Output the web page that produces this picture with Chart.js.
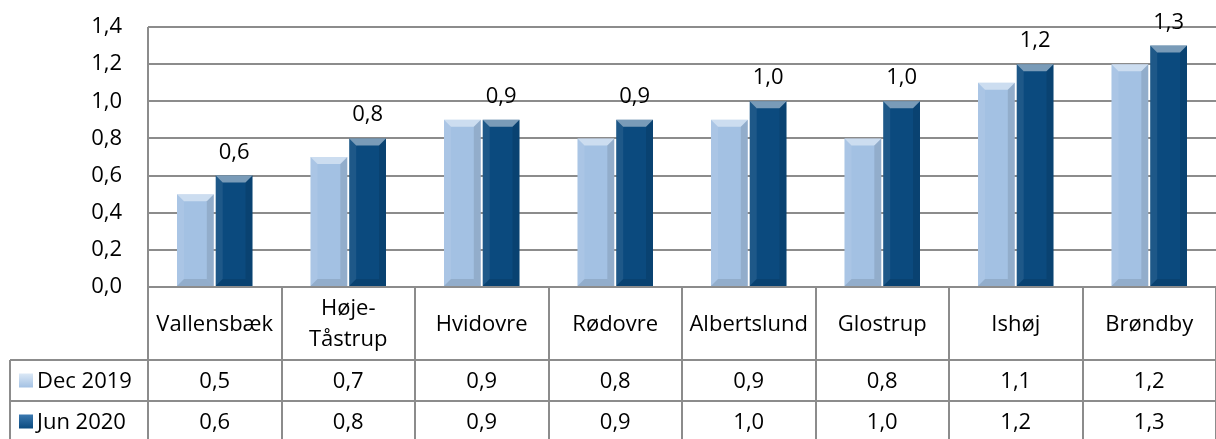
<!DOCTYPE html>
<html>
<head>
<meta charset="utf-8">
<script src="https://cdn.jsdelivr.net/npm/chart.js@4/dist/chart.umd.min.js"></script>
<style>
  html, body { margin: 0; padding: 0; background: #fff; }
  #wrap { width: 1216px; height: 439px; }
</style>
</head>
<body>
<div id="wrap"><canvas id="myChart" width="1216" height="439"></canvas></div>
<script>
// data of the chart
const kommuner = ['Vallensbæk', ['Høje-', 'Tåstrup'], 'Hvidovre', 'Rødovre', 'Albertslund', 'Glostrup', 'Ishøj', 'Brøndby']
const dec2019 = [0.5, 0.7, 0.9, 0.8, 0.9, 0.8, 1.1, 1.2]
const jun2020 = [0.6, 0.8, 0.9, 0.9, 1.0, 1.0, 1.2, 1.3]
const serieNavne = ['Dec 2019', 'Jun 2020']
const yTicks = [0, 0.2, 0.4, 0.6, 0.8, 1.0, 1.2, 1.4]

const lys = '#a3c1e3'
const moerk = '#0b4a7e'
const gridFarve = '#8c8c8c'
const fonte = '"Open Sans", Lato, sans-serif'
const fontStr = 22

function komma(v) {
    return v.toFixed(1).replace('.', ',')
}

// simple bevel on each bar, like the excel look
const bevelPlugin = {
    id: 'bevel',
    afterDatasetsDraw(chart) {
        const ctx = chart.ctx
        chart.data.datasets.forEach((ds, i) => {
            const meta = chart.getDatasetMeta(i)
            meta.data.forEach(bar => {
                const l = bar.x - bar.width / 2
                const r = bar.x + bar.width / 2
                const t = bar.y
                const b = bar.base
                const s = 7
                ctx.save()
                // top
                ctx.fillStyle = 'rgba(255,255,255,0.45)'
                ctx.beginPath()
                ctx.moveTo(l, t); ctx.lineTo(r, t); ctx.lineTo(r - s, t + s); ctx.lineTo(l + s, t + s); ctx.closePath()
                ctx.fill()
                // left
                ctx.fillStyle = 'rgba(255,255,255,0.08)'
                ctx.beginPath()
                ctx.moveTo(l, t); ctx.lineTo(l + s, t + s); ctx.lineTo(l + s, b - s); ctx.lineTo(l, b); ctx.closePath()
                ctx.fill()
                // right
                ctx.fillStyle = 'rgba(0,0,0,0.10)'
                ctx.beginPath()
                ctx.moveTo(r, t); ctx.lineTo(r - s, t + s); ctx.lineTo(r - s, b - s); ctx.lineTo(r, b); ctx.closePath()
                ctx.fill()
                // bottom
                ctx.fillStyle = 'rgba(0,0,0,0.10)'
                ctx.beginPath()
                ctx.moveTo(l, b); ctx.lineTo(l + s, b - s); ctx.lineTo(r - s, b - s); ctx.lineTo(r, b); ctx.closePath()
                ctx.fill()
                ctx.restore()
            })
        })
    }
}

// labels over the Jun 2020 bars
const labelPlugin = {
    id: 'labels',
    afterDatasetsDraw(chart) {
        const ctx = chart.ctx
        const meta = chart.getDatasetMeta(1)
        ctx.save()
        ctx.font = fontStr + 'px ' + fonte
        ctx.fillStyle = '#000'
        ctx.textAlign = 'center'
        ctx.textBaseline = 'alphabetic'
        meta.data.forEach((bar, j) => {
            ctx.fillText(komma(jun2020[j]), bar.x, bar.y - 17)
        })
        ctx.restore()
    }
}

// data table under the chart
const tabelPlugin = {
    id: 'tabel',
    afterDraw(chart) {
        const ctx = chart.ctx
        const area = chart.chartArea
        const xs = chart.scales.x
        const n = kommuner.length
        const bredde = (area.right - area.left) / n
        const rHead = area.bottom + 73
        const rDec = rHead + 41
        const rJun = rDec + 41
        const venstre = 10

        ctx.save()
        ctx.strokeStyle = gridFarve
        ctx.lineWidth = 2
        ctx.beginPath()
        // column lines
        for (let i = 1; i <= n; i++) {
            const x = Math.round(area.left + bredde * i)
            ctx.moveTo(x, area.bottom); ctx.lineTo(x, rJun)
        }
        ctx.moveTo(area.left, area.top); ctx.lineTo(area.left, rJun)
        ctx.moveTo(venstre, rHead); ctx.lineTo(venstre, rJun)
        ctx.moveTo(venstre, rHead); ctx.lineTo(area.right, rHead)
        ctx.moveTo(venstre, rDec); ctx.lineTo(area.right, rDec)
        ctx.moveTo(venstre, rJun); ctx.lineTo(area.right, rJun)
        ctx.stroke()

        ctx.font = fontStr + 'px ' + fonte
        ctx.fillStyle = '#000'
        ctx.textAlign = 'center'
        ctx.textBaseline = 'middle'
        for (let i = 0; i < n; i++) {
            const cx = xs.getPixelForValue(i)
            const navn = kommuner[i]
            if (Array.isArray(navn)) {
                ctx.fillText(navn[0], cx, (area.bottom + rHead) / 2 - 15)
                ctx.fillText(navn[1], cx, (area.bottom + rHead) / 2 + 16)
            } else {
                ctx.fillText(navn, cx, (area.bottom + rHead) / 2 + 1)
            }
            ctx.fillText(komma(dec2019[i]), cx, (rHead + rDec) / 2 + 1)
            ctx.fillText(komma(jun2020[i]), cx, (rDec + rJun) / 2 + 1)
        }

        // row headers with small keys
        const farver = [lys, moerk]
        const rækker = [(rHead + rDec) / 2, (rDec + rJun) / 2]
        ctx.textAlign = 'left'
        for (let k = 0; k < 2; k++) {
            const y = rækker[k]
            const g = ctx.createLinearGradient(0, y - 7, 0, y + 7)
            g.addColorStop(0, k == 0 ? '#dbe8f6' : '#3a78b0')
            g.addColorStop(1, farver[k])
            ctx.fillStyle = g
            ctx.fillRect(19, y - 7, 14, 14)
            ctx.fillStyle = '#000'
            ctx.fillText(serieNavne[k], 37, y + 1)
        }
        ctx.restore()
    }
}

const data = {
    labels: kommuner.map(k => Array.isArray(k) ? k.join('') : k),
    datasets: [
        { label: serieNavne[0], data: dec2019, backgroundColor: lys, borderWidth: 0 },
        { label: serieNavne[1], data: jun2020, backgroundColor: moerk, borderWidth: 0 }
    ]
}

const config = {
    type: 'bar',
    data: data,
    options: {
        responsive: false,
        animation: false,
        layout: { padding: { top: 27, right: 0, bottom: 152, left: 0 } },
        datasets: { bar: { categoryPercentage: 0.58, barPercentage: 0.95 } },
        plugins: { legend: { display: false }, tooltip: { enabled: false } },
        scales: {
            x: {
                display: false,
                grid: { display: false }
            },
            y: {
                min: 0,
                max: 1.4,
                afterFit(scale) {
                    scale.width = 148
                    scale.paddingTop = 0
                    scale.paddingBottom = 0
                },
                afterBuildTicks(scale) { scale.ticks = yTicks.map(v => ({ value: v })) },
                border: { display: false },
                grid: { color: gridFarve, lineWidth: 2, drawTicks: false },
                ticks: {
                    padding: 26,
                    color: '#000',
                    font: { family: fonte, size: fontStr },
                    callback: v => komma(v)
                }
            }
        }
    },
    plugins: [bevelPlugin, labelPlugin, tabelPlugin]
}

const myChart = new Chart(document.getElementById('myChart'), config)
</script>
</body>
</html>
